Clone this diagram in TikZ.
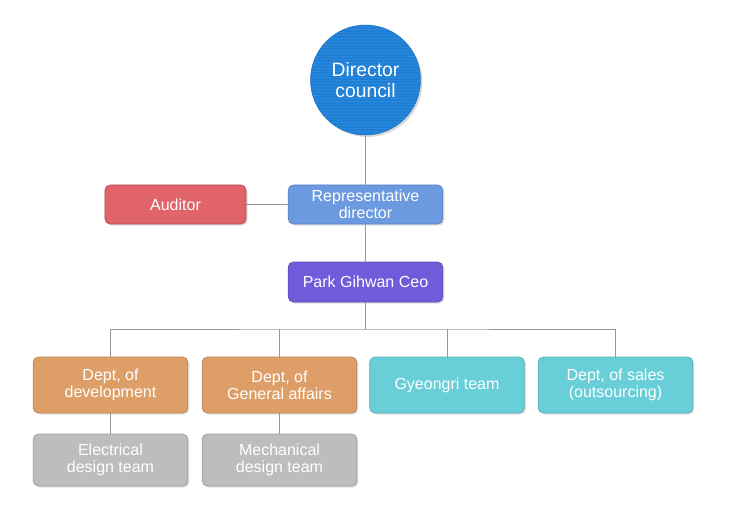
\documentclass[tikz,border=0pt]{standalone}
\usepackage{fontspec}
\setmainfont{Liberation Sans}
\usepackage{xcolor}
\usetikzlibrary{positioning, calc, shadows}
\definecolor{org-blue}{RGB}{30,127,214}
\definecolor{org-rep}{RGB}{108,154,224}
\definecolor{org-red}{RGB}{224,100,106}
\definecolor{org-purple}{RGB}{110,92,219}
\definecolor{org-orange}{RGB}{222,158,104}
\definecolor{org-teal}{RGB}{104,207,216}
\definecolor{org-grey}{RGB}{189,189,189}
\definecolor{org-line}{RGB}{150,150,150}

\begin{document}
\begin{tikzpicture}[
  x=0.75pt, y=-0.75pt,
  unit/.style={draw, rounded corners=4pt, minimum width=116pt, align=center, text=white,
    font=\fontsize{12}{13}\selectfont, line width=0.6pt,
    drop shadow={shadow xshift=1.2pt, shadow yshift=-1.2pt, opacity=0.25}},
  top/.style={unit, minimum height=29.3pt},
  dept/.style={unit, minimum height=42pt},
  team/.style={unit, minimum height=39pt, fill=org-grey, draw=org-grey!85!black},
  link/.style={draw=org-line, line width=0.6pt},
]
  \useasboundingbox (0,0) rectangle (731,514);

  % Board
  \node[circle, minimum size=82.5pt, fill=org-blue, draw=org-blue!90!black, text=white, align=center,
    font=\fontsize{14.5}{15.5}\selectfont,
    drop shadow={shadow xshift=1.5pt, shadow yshift=-1.5pt, opacity=0.3},
    path picture={\foreach \k in {-19,...,19}
      \draw[white, opacity=0.07, line width=0.5pt]
        ([yshift=\k*2.25pt]path picture bounding box.west) -- ([yshift=\k*2.25pt]path picture bounding box.east);}]
    (council) at (365.5,80) {Director\\council};
  \node[top, fill=org-rep, draw=org-rep!85!black] (rep) at (365.5,204.5) {Representative\\director};
  \node[top, fill=org-red, draw=org-red!80!black, minimum width=105.8pt] (auditor) at (175.5,204.5) {Auditor};
  \node[top, fill=org-purple, draw=org-purple!85!black, minimum height=30pt] (ceo) at (365.5,282) {Park Gihwan Ceo};

  % Departments
  \node[dept, fill=org-orange, draw=org-orange!85!black] (dev) at (110.5,385) {Dept, of\\development};
  \node[dept, fill=org-orange, draw=org-orange!85!black] (general) at (279.5,385) {Dept, of\\General affairs};
  \node[dept, fill=org-teal, draw=org-teal!85!black] (gyeongri) at (447,385) {Gyeongri team};
  \node[dept, fill=org-teal, draw=org-teal!85!black] (sales) at (615.5,385) {Dept, of sales\\(outsourcing)};

  % Teams
  \node[team] (electrical) at (110.5,460) {Electrical\\design team};
  \node[team] (mechanical) at (279.5,460) {Mechanical\\design team};

  \coordinate (bus) at (365.5,329);

  % Links
  \draw[link] (council) -- (rep);
  \draw[link] (auditor) -- (rep);
  \draw[link] (rep) -- (ceo);
  \draw[link] (ceo) -- (bus);
  \draw[link] (dev) |- (bus) -| (sales);
  \draw[link] (general) -- (general |- bus);
  \draw[link] (gyeongri) -- (gyeongri |- bus);
  \draw[link] (dev) -- (electrical);
  \draw[link] (general) -- (mechanical);
\end{tikzpicture}
\end{document}
